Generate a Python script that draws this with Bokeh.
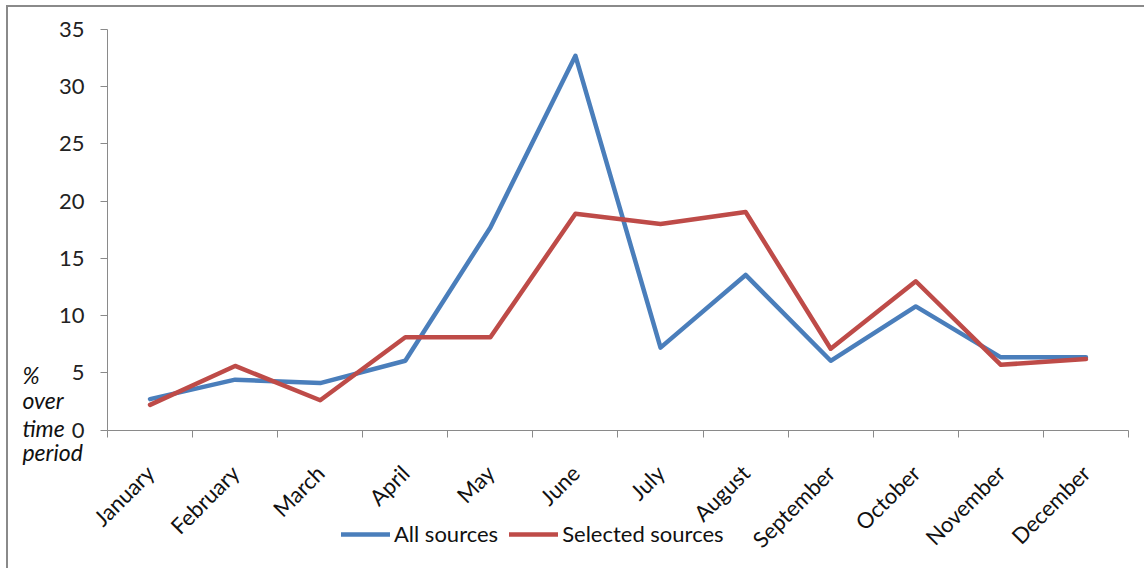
import math
from bokeh.plotting import figure
from bokeh.models import Range1d, FixedTicker, Legend, LegendItem, Label, LinearAxis
from bokeh.embed import file_html
from bokeh.resources import INLINE

months = ["January", "February", "March", "April", "May", "June", "July",
          "August", "September", "October", "November", "December"]
all_sources = [2.7, 4.4, 4.1, 6.05, 17.7, 32.7, 7.2, 13.55, 6.05, 10.8, 6.35, 6.35]
selected_sources = [2.2, 5.6, 2.6, 8.1, 8.1, 18.9, 18.0, 19.05, 7.1, 13.0, 5.7, 6.2]
y_ticks = [0, 5, 10, 15, 20, 25, 30, 35]
y_label_lines = ["%", "over", "time", "period"]

FONT = "Lato"
GRAY = "#8a8a8a"
n = len(months)
x = [i + 0.5 for i in range(n)]

# frame covers the whole canvas; axes are pinned at 0 inside it
p = figure(width=1138, height=563, output_backend="svg", toolbar_location=None,
           x_range=Range1d(-1.1636, 12.2116), y_range=Range1d(-12.278, 36.9226),
           x_axis_location=None, y_axis_location=None,
           min_border=0, min_border_left=0, min_border_right=0,
           min_border_top=0, min_border_bottom=0)
p.styles = {"border-top": "2px solid " + GRAY, "border-left": "2px solid " + GRAY,
            "margin-left": "6px", "margin-top": "5px"}
p.outline_line_color = None
p.background_fill_color = "white"
p.border_fill_color = "white"
p.xgrid.visible = False
p.ygrid.visible = False

r_all = p.line(x, all_sources, line_color="#4A7EBB", line_width=4.5, line_join="round", line_cap="round")
r_sel = p.line(x, selected_sources, line_color="#BE4B48", line_width=4.5, line_join="round", line_cap="round")

xa = LinearAxis(fixed_location=0, bounds=(0, n))
xa.ticker = FixedTicker(ticks=x, minor_ticks=list(range(n + 1)))
xa.major_label_overrides = {xx: m for xx, m in zip(x, months)}
xa.major_label_orientation = math.pi / 4
xa.major_tick_line_color = None
xa.minor_tick_line_color = GRAY
xa.minor_tick_out = 7
xa.minor_tick_in = 0
xa.axis_line_color = GRAY
xa.major_label_text_font = FONT
xa.major_label_text_font_size = "22px"
xa.major_label_text_color = "#111111"
xa.major_label_standoff = 32
p.add_layout(xa, "below")

ya = LinearAxis(fixed_location=0, bounds=(0, 35))
ya.ticker = FixedTicker(ticks=y_ticks)
ya.minor_tick_line_color = None
ya.major_tick_line_color = GRAY
ya.major_tick_out = 7
ya.major_tick_in = 0
ya.axis_line_color = GRAY
ya.major_label_text_font = FONT
ya.major_label_text_font_size = "22px"
ya.major_label_text_color = "#222222"
ya.major_label_standoff = 16
p.add_layout(ya, "left")

for txt, yy in zip(y_label_lines, [4.85, 2.58, 0.21, -1.88]):
    p.add_layout(Label(x=-1.0, y=yy, text=txt, text_font=FONT, text_font_style="italic",
                       text_font_size="23px", text_color="#111111", text_baseline="alphabetic"))

legend = Legend(items=[LegendItem(label="All sources", renderers=[r_all]),
                       LegendItem(label="Selected sources", renderers=[r_sel])],
                orientation="horizontal", location=(333, 23),
                border_line_color=None, background_fill_alpha=0,
                padding=0, margin=0, spacing=11, glyph_width=49, glyph_height=22,
                label_standoff=4, label_text_font=FONT, label_text_font_size="22px",
                label_text_color="#111111", label_height=22)
p.add_layout(legend, "center")

open("out.html", "w").write(file_html(p, INLINE))
